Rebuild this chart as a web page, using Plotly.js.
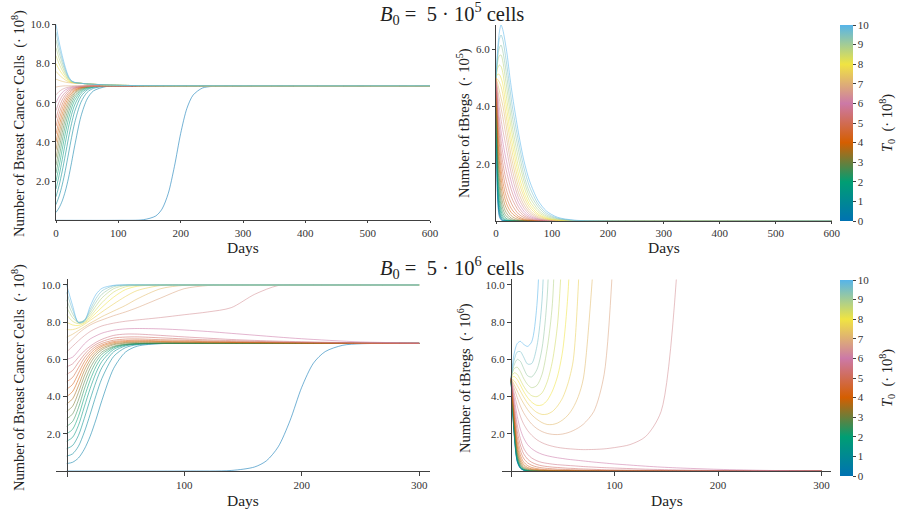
<!DOCTYPE html>
<html>
<head>
<meta charset="utf-8">
<script src="https://cdn.plot.ly/plotly-3.0.1.min.js"></script>
<style>html,body{margin:0;padding:0;background:#fff;}#chart{width:901px;height:509px;}</style>
</head>
<body>
<div id="chart"></div>
<script>
// Initial tumour sizes T0 (·10^8), one curve each
const T0_VALUES = [0, 0.4, 0.8, 1.2, 1.6, 2.0, 2.4, 2.8, 3.2, 3.6, 4.0, 4.4, 4.8, 5.2, 5.6, 6.0, 6.4, 6.8, 7.2, 7.6, 8.0, 8.4, 8.8, 9.2, 9.6, 10.0];

// ---- Top-left: breast cancer cells, B0 = 5·10^5 ----
const daysTopLeft = [0, 5, 10, 15, 20, 25, 30, 40, 50, 60, 80, 100, 140, 600];
const daysTopLeftZero = [0, 100, 140, 160, 170, 180, 190, 200, 210, 220, 235, 250, 280, 600];
const cancerTopLeftZero = [0, 0, 0.03, 0.22, 0.57, 1.36, 2.75, 4.43, 5.71, 6.39, 6.75, 6.83, 6.86, 6.86];
const cancerTopLeft = [ // T0 = 0.4 ... 10
  [0.4, 0.64, 0.99, 1.49, 2.15, 2.95, 3.80, 5.30, 6.19, 6.60, 6.82, 6.85, 6.86, 6.86],
  [0.8, 1.23, 1.81, 2.55, 3.39, 4.23, 4.98, 6.02, 6.53, 6.73, 6.84, 6.86, 6.86, 6.86],
  [1.2, 1.78, 2.51, 3.34, 4.19, 4.94, 5.56, 6.31, 6.65, 6.78, 6.85, 6.86, 6.86, 6.86],
  [1.6, 2.29, 3.10, 3.96, 4.75, 5.40, 5.89, 6.47, 6.71, 6.80, 6.85, 6.86, 6.86, 6.86],
  [2.0, 2.77, 3.62, 4.45, 5.16, 5.72, 6.12, 6.57, 6.75, 6.82, 6.86, 6.86, 6.86, 6.86],
  [2.4, 3.23, 4.07, 4.85, 5.48, 5.95, 6.28, 6.63, 6.78, 6.83, 6.86, 6.86, 6.86, 6.86],
  [2.8, 3.65, 4.47, 5.18, 5.73, 6.13, 6.40, 6.68, 6.79, 6.84, 6.86, 6.86, 6.86, 6.86],
  [3.2, 4.05, 4.83, 5.47, 5.94, 6.27, 6.49, 6.72, 6.81, 6.84, 6.86, 6.86, 6.86, 6.86],
  [3.6, 4.43, 5.15, 5.71, 6.11, 6.38, 6.56, 6.75, 6.82, 6.85, 6.86, 6.86, 6.86, 6.86],
  [4.0, 4.79, 5.43, 5.92, 6.26, 6.48, 6.62, 6.77, 6.83, 6.85, 6.86, 6.86, 6.86, 6.86],
  [4.4, 5.12, 5.69, 6.10, 6.38, 6.56, 6.67, 6.79, 6.84, 6.85, 6.86, 6.86, 6.86, 6.86],
  [4.8, 5.44, 5.92, 6.26, 6.48, 6.63, 6.72, 6.81, 6.84, 6.85, 6.86, 6.86, 6.86, 6.86],
  [5.2, 5.75, 6.14, 6.40, 6.58, 6.68, 6.75, 6.82, 6.85, 6.86, 6.86, 6.86, 6.86, 6.86],
  [5.6, 6.04, 6.34, 6.53, 6.66, 6.74, 6.78, 6.83, 6.85, 6.86, 6.86, 6.86, 6.86, 6.86],
  [6.0, 6.31, 6.52, 6.65, 6.73, 6.78, 6.81, 6.84, 6.85, 6.86, 6.86, 6.86, 6.86, 6.86],
  [6.4, 6.57, 6.68, 6.75, 6.79, 6.82, 6.84, 6.85, 6.86, 6.86, 6.86, 6.86, 6.86, 6.86],
  [6.8, 6.83, 6.85, 6.86, 6.86, 6.86, 6.86, 6.86, 6.86, 6.86, 6.86, 6.86, 6.86, 6.86],
  [7.2, 7.14, 7.09, 7.05, 7.02, 7.01, 7.00, 6.99, 6.96, 6.94, 6.91, 6.89, 6.87, 6.86],
  [7.6, 7.42, 7.28, 7.16, 7.07, 7.02, 7.01, 6.99, 6.96, 6.94, 6.91, 6.89, 6.87, 6.86],
  [8.0, 7.70, 7.47, 7.27, 7.12, 7.04, 7.01, 6.99, 6.96, 6.94, 6.91, 6.89, 6.87, 6.86],
  [8.4, 7.98, 7.65, 7.37, 7.16, 7.06, 7.02, 6.99, 6.96, 6.94, 6.91, 6.89, 6.87, 6.86],
  [8.8, 8.26, 7.84, 7.48, 7.21, 7.07, 7.02, 6.99, 6.96, 6.94, 6.91, 6.89, 6.87, 6.86],
  [9.2, 8.54, 8.03, 7.59, 7.26, 7.09, 7.03, 6.99, 6.96, 6.94, 6.91, 6.89, 6.87, 6.86],
  [9.6, 8.82, 8.21, 7.69, 7.30, 7.10, 7.03, 6.99, 6.96, 6.94, 6.91, 6.89, 6.87, 6.86],
  [10.0, 9.10, 8.40, 7.80, 7.35, 7.12, 7.04, 6.99, 6.96, 6.94, 6.91, 6.89, 6.87, 6.86]
];

// ---- Top-right: tBregs (·10^5), B0 = 5·10^5 ----
const daysTopRight = [0, 3, 6, 9, 12, 16, 20, 25, 30, 40, 50, 60, 75, 90, 110, 140, 200, 600];
const bregsTopRight = [ // T0 = 0 ... 10
  [5.0, 0.7, 0.15, 0.04, 0.01, 0, 0, 0, 0, 0, 0, 0, 0, 0, 0, 0, 0, 0],
  [5.0, 0.85, 0.22, 0.06, 0.02, 0, 0, 0, 0, 0, 0, 0, 0, 0, 0, 0, 0, 0],
  [5.0, 1.0, 0.3, 0.1, 0.03, 0.01, 0, 0, 0, 0, 0, 0, 0, 0, 0, 0, 0, 0],
  [5.0, 1.2, 0.4, 0.15, 0.06, 0.02, 0, 0, 0, 0, 0, 0, 0, 0, 0, 0, 0, 0],
  [5.0, 1.4, 0.55, 0.24, 0.11, 0.04, 0.01, 0, 0, 0, 0, 0, 0, 0, 0, 0, 0, 0],
  [5.0, 1.65, 0.72, 0.36, 0.18, 0.08, 0.03, 0.01, 0, 0, 0, 0, 0, 0, 0, 0, 0, 0],
  [5.0, 1.9, 0.95, 0.52, 0.29, 0.14, 0.07, 0.03, 0.01, 0, 0, 0, 0, 0, 0, 0, 0, 0],
  [5.0, 2.2, 1.2, 0.72, 0.44, 0.24, 0.14, 0.07, 0.03, 0, 0, 0, 0, 0, 0, 0, 0, 0],
  [5.0, 2.45, 1.5, 0.95, 0.63, 0.38, 0.24, 0.13, 0.07, 0.02, 0, 0, 0, 0, 0, 0, 0, 0],
  [5.0, 2.75, 1.8, 1.22, 0.86, 0.56, 0.38, 0.23, 0.14, 0.05, 0.02, 0, 0, 0, 0, 0, 0, 0],
  [5.0, 3.05, 2.1, 1.52, 1.12, 0.78, 0.55, 0.36, 0.24, 0.1, 0.04, 0.01, 0, 0, 0, 0, 0, 0],
  [5.0, 3.3, 2.4, 1.82, 1.4, 1.02, 0.76, 0.52, 0.36, 0.16, 0.07, 0.03, 0.01, 0, 0, 0, 0, 0],
  [5.0, 3.55, 2.7, 2.15, 1.72, 1.3, 1.0, 0.73, 0.52, 0.25, 0.12, 0.05, 0.01, 0, 0, 0, 0, 0],
  [5.0, 3.8, 3.0, 2.45, 2.05, 1.62, 1.3, 0.97, 0.72, 0.37, 0.18, 0.08, 0.02, 0, 0, 0, 0, 0],
  [5.0, 4.0, 3.3, 2.8, 2.4, 1.98, 1.63, 1.25, 0.94, 0.5, 0.25, 0.12, 0.04, 0.01, 0, 0, 0, 0],
  [5.0, 4.2, 3.6, 3.15, 2.78, 2.35, 1.98, 1.55, 1.18, 0.65, 0.34, 0.17, 0.06, 0.02, 0, 0, 0, 0],
  [5.0, 4.4, 3.95, 3.55, 3.2, 2.8, 2.38, 1.88, 1.45, 0.82, 0.45, 0.23, 0.08, 0.03, 0.01, 0, 0, 0],
  [5.0, 4.6, 4.25, 3.95, 3.65, 3.2, 2.75, 2.2, 1.72, 1.0, 0.56, 0.3, 0.11, 0.04, 0.01, 0, 0, 0],
  [5.0, 4.8, 4.55, 4.3, 4.05, 3.6, 3.1, 2.5, 2.0, 1.2, 0.7, 0.38, 0.15, 0.06, 0.015, 0, 0, 0],
  [5.0, 4.95, 4.85, 4.7, 4.45, 3.95, 3.45, 2.85, 2.3, 1.42, 0.85, 0.48, 0.2, 0.08, 0.02, 0, 0, 0],
  [5.0, 5.13, 5.12, 5.0, 4.8, 4.3, 3.8, 3.15, 2.6, 1.65, 1.0, 0.58, 0.25, 0.1, 0.03, 0.01, 0, 0],
  [5.0, 5.35, 5.45, 5.4, 5.2, 4.7, 4.15, 3.5, 2.9, 1.9, 1.2, 0.7, 0.32, 0.13, 0.04, 0.01, 0, 0],
  [5.0, 5.55, 5.78, 5.8, 5.6, 5.1, 4.55, 3.85, 3.2, 2.2, 1.4, 0.85, 0.4, 0.17, 0.06, 0.01, 0, 0],
  [5.0, 5.7, 6.05, 6.15, 5.95, 5.5, 4.95, 4.2, 3.55, 2.5, 1.6, 1.0, 0.5, 0.22, 0.08, 0.015, 0, 0],
  [5.0, 5.85, 6.35, 6.5, 6.35, 5.9, 5.35, 4.6, 3.9, 2.8, 1.85, 1.2, 0.6, 0.28, 0.1, 0.02, 0, 0],
  [5.0, 6.0, 6.6, 6.85, 6.7, 6.3, 5.8, 5.0, 4.3, 3.1, 2.1, 1.4, 0.72, 0.35, 0.13, 0.03, 0, 0]
];

// ---- Bottom-left: breast cancer cells, B0 = 5·10^6 ----
const daysBottomLeft = [0, 5, 10, 15, 20, 25, 30, 40, 50, 60, 80, 100, 120, 140, 160, 180, 200, 250, 300];
const daysBottomLeftZero = [0, 100, 140, 160, 170, 180, 190, 200, 210, 220, 235, 250, 270, 300];
const cancerBottomLeftZero = [0, 0, 0.03, 0.22, 0.55, 1.3, 2.7, 4.5, 5.8, 6.42, 6.76, 6.84, 6.86, 6.86];
const cancerBottomLeft = [ // T0 = 0.4 ... 10
  [0.4, 0.47, 0.70, 1.17, 1.87, 2.78, 3.80, 5.52, 6.39, 6.71, 6.85, 6.86, 6.86, 6.86, 6.86, 6.86, 6.86, 6.86, 6.86],
  [0.8, 0.92, 1.33, 2.09, 3.05, 4.07, 4.98, 6.16, 6.63, 6.79, 6.85, 6.86, 6.86, 6.86, 6.86, 6.86, 6.86, 6.86, 6.86],
  [1.2, 1.37, 1.91, 2.83, 3.85, 4.80, 5.56, 6.41, 6.72, 6.82, 6.86, 6.86, 6.86, 6.86, 6.86, 6.86, 6.86, 6.86, 6.86],
  [1.6, 1.81, 2.45, 3.45, 4.44, 5.28, 5.89, 6.54, 6.76, 6.83, 6.86, 6.86, 6.86, 6.86, 6.86, 6.86, 6.86, 6.86, 6.86],
  [2.0, 2.24, 2.94, 3.96, 4.89, 5.62, 6.12, 6.62, 6.79, 6.84, 6.86, 6.86, 6.86, 6.86, 6.86, 6.86, 6.86, 6.86, 6.86],
  [2.4, 2.66, 3.40, 4.40, 5.25, 5.87, 6.28, 6.67, 6.80, 6.85, 6.86, 6.86, 6.86, 6.86, 6.86, 6.86, 6.86, 6.86, 6.86],
  [2.8, 3.07, 3.82, 4.77, 5.53, 6.06, 6.40, 6.71, 6.82, 6.85, 6.86, 6.86, 6.86, 6.86, 6.86, 6.86, 6.86, 6.86, 6.86],
  [3.2, 3.48, 4.22, 5.10, 5.78, 6.24, 6.52, 6.79, 6.87, 6.91, 6.90, 6.89, 6.88, 6.88, 6.87, 6.87, 6.87, 6.86, 6.86],
  [3.6, 3.88, 4.58, 5.39, 5.98, 6.37, 6.61, 6.84, 6.91, 6.94, 6.93, 6.92, 6.90, 6.89, 6.89, 6.88, 6.87, 6.86, 6.86],
  [4.0, 4.27, 4.93, 5.64, 6.16, 6.49, 6.70, 6.90, 6.96, 6.98, 6.96, 6.94, 6.93, 6.91, 6.90, 6.89, 6.88, 6.87, 6.86],
  [4.4, 4.65, 5.25, 5.87, 6.31, 6.60, 6.77, 6.96, 7.01, 7.03, 7.00, 6.98, 6.95, 6.93, 6.91, 6.90, 6.89, 6.87, 6.86],
  [4.8, 5.03, 5.55, 6.08, 6.45, 6.70, 6.86, 7.03, 7.09, 7.10, 7.06, 7.03, 6.99, 6.96, 6.94, 6.92, 6.90, 6.87, 6.86],
  [5.2, 5.40, 5.84, 6.26, 6.59, 6.81, 6.96, 7.15, 7.20, 7.21, 7.16, 7.10, 7.05, 7.01, 6.97, 6.94, 6.92, 6.88, 6.87],
  [5.6, 5.76, 6.11, 6.45, 6.71, 6.92, 7.08, 7.29, 7.36, 7.36, 7.29, 7.21, 7.14, 7.07, 7.02, 6.98, 6.95, 6.89, 6.87],
  [6.0, 6.12, 6.46, 6.83, 7.10, 7.27, 7.41, 7.57, 7.64, 7.66, 7.64, 7.58, 7.50, 7.40, 7.30, 7.20, 7.11, 6.94, 6.88],
  [6.4, 6.70, 7.00, 7.27, 7.50, 7.67, 7.80, 7.95, 8.05, 8.12, 8.25, 8.40, 8.55, 8.78, 9.50, 9.97, 10.0, 10.0, 10.0],
  [6.8, 7.10, 7.40, 7.65, 7.85, 8.00, 8.12, 8.35, 8.55, 8.78, 9.30, 9.80, 9.97, 10.0, 10.0, 10.0, 10.0, 10.0, 10.0],
  [7.2, 7.35, 7.55, 7.75, 7.95, 8.12, 8.30, 8.60, 8.90, 9.25, 9.80, 9.98, 10.0, 10.0, 10.0, 10.0, 10.0, 10.0, 10.0],
  [7.6, 7.60, 7.70, 7.88, 8.10, 8.32, 8.55, 8.98, 9.38, 9.70, 9.97, 10.0, 10.0, 10.0, 10.0, 10.0, 10.0, 10.0, 10.0],
  [8.0, 7.85, 7.82, 7.95, 8.20, 8.50, 8.80, 9.35, 9.75, 9.93, 10.0, 10.0, 10.0, 10.0, 10.0, 10.0, 10.0, 10.0, 10.0],
  [8.4, 8.05, 7.92, 8.00, 8.30, 8.68, 9.05, 9.62, 9.90, 9.98, 10.0, 10.0, 10.0, 10.0, 10.0, 10.0, 10.0, 10.0, 10.0],
  [8.8, 8.25, 7.98, 8.06, 8.42, 8.88, 9.30, 9.80, 9.97, 10.0, 10.0, 10.0, 10.0, 10.0, 10.0, 10.0, 10.0, 10.0, 10.0],
  [9.2, 8.45, 8.00, 8.10, 8.55, 9.08, 9.50, 9.90, 10.0, 10.0, 10.0, 10.0, 10.0, 10.0, 10.0, 10.0, 10.0, 10.0, 10.0],
  [9.6, 8.68, 8.00, 8.10, 8.68, 9.28, 9.68, 9.96, 10.0, 10.0, 10.0, 10.0, 10.0, 10.0, 10.0, 10.0, 10.0, 10.0, 10.0],
  [10.0, 8.90, 7.97, 8.05, 8.85, 9.50, 9.82, 9.98, 10.0, 10.0, 10.0, 10.0, 10.0, 10.0, 10.0, 10.0, 10.0, 10.0, 10.0]
];

// ---- Bottom-right: tBregs (·10^6), B0 = 5·10^6 (curves leaving the top end early) ----
const daysBottomRight = [0, 3, 6, 9, 12, 16, 20, 25, 30, 35, 40, 45, 50, 55, 60, 65, 70, 80, 90, 100, 115, 130, 145, 160, 200, 250, 300];
const bregsBottomRight = [ // T0 = 0 ... 10
  [5.0, 2.0, 0.5, 0.15, 0.05, 0.01, 0, 0, 0, 0, 0, 0, 0, 0, 0, 0, 0, 0, 0, 0, 0, 0, 0, 0, 0, 0, 0],
  [5.0, 2.05, 0.53, 0.16, 0.05, 0.01, 0, 0, 0, 0, 0, 0, 0, 0, 0, 0, 0, 0, 0, 0, 0, 0, 0, 0, 0, 0, 0],
  [5.0, 2.1, 0.56, 0.17, 0.06, 0.01, 0, 0, 0, 0, 0, 0, 0, 0, 0, 0, 0, 0, 0, 0, 0, 0, 0, 0, 0, 0, 0],
  [5.0, 2.15, 0.6, 0.19, 0.06, 0.02, 0, 0, 0, 0, 0, 0, 0, 0, 0, 0, 0, 0, 0, 0, 0, 0, 0, 0, 0, 0, 0],
  [5.0, 2.2, 0.65, 0.21, 0.07, 0.02, 0, 0, 0, 0, 0, 0, 0, 0, 0, 0, 0, 0, 0, 0, 0, 0, 0, 0, 0, 0, 0],
  [5.0, 2.3, 0.72, 0.24, 0.09, 0.03, 0.01, 0, 0, 0, 0, 0, 0, 0, 0, 0, 0, 0, 0, 0, 0, 0, 0, 0, 0, 0, 0],
  [5.0, 2.4, 0.8, 0.29, 0.11, 0.04, 0.02, 0.01, 0, 0, 0, 0, 0, 0, 0, 0, 0, 0, 0, 0, 0, 0, 0, 0, 0, 0, 0],
  [5.0, 2.5, 0.9, 0.35, 0.14, 0.06, 0.03, 0.01, 0, 0, 0, 0, 0, 0, 0, 0, 0, 0, 0, 0, 0, 0, 0, 0, 0, 0, 0],
  [5.0, 2.6, 1.02, 0.43, 0.19, 0.09, 0.05, 0.03, 0.02, 0.01, 0, 0, 0, 0, 0, 0, 0, 0, 0, 0, 0, 0, 0, 0, 0, 0, 0],
  [5.0, 2.75, 1.17, 0.54, 0.26, 0.13, 0.08, 0.05, 0.03, 0.02, 0.01, 0, 0, 0, 0, 0, 0, 0, 0, 0, 0, 0, 0, 0, 0, 0, 0],
  [5.0, 2.9, 1.35, 0.68, 0.36, 0.19, 0.12, 0.08, 0.05, 0.04, 0.03, 0.02, 0.02, 0.01, 0.01, 0, 0, 0, 0, 0, 0, 0, 0, 0, 0, 0, 0],
  [5.0, 3.05, 1.58, 0.86, 0.5, 0.29, 0.19, 0.13, 0.09, 0.07, 0.06, 0.05, 0.04, 0.03, 0.03, 0.02, 0.02, 0.01, 0.01, 0, 0, 0, 0, 0, 0, 0, 0],
  [5.0, 3.25, 1.85, 1.1, 0.7, 0.44, 0.31, 0.22, 0.17, 0.14, 0.12, 0.1, 0.09, 0.08, 0.07, 0.06, 0.05, 0.04, 0.03, 0.02, 0.02, 0.01, 0.01, 0, 0, 0, 0],
  [5.0, 3.45, 2.15, 1.4, 0.95, 0.64, 0.47, 0.35, 0.28, 0.24, 0.21, 0.19, 0.17, 0.15, 0.14, 0.12, 0.11, 0.09, 0.07, 0.06, 0.05, 0.04, 0.03, 0.02, 0.01, 0, 0],
  [5.0, 3.7, 2.5, 1.75, 1.25, 0.9, 0.7, 0.55, 0.46, 0.41, 0.37, 0.34, 0.32, 0.3, 0.28, 0.26, 0.24, 0.21, 0.18, 0.16, 0.13, 0.1, 0.08, 0.06, 0.03, 0.01, 0],
  [5.0, 3.95, 2.95, 2.25, 1.8, 1.42, 1.2, 1.02, 0.9, 0.82, 0.76, 0.71, 0.67, 0.63, 0.6, 0.57, 0.54, 0.48, 0.43, 0.38, 0.32, 0.26, 0.21, 0.17, 0.09, 0.03, 0.01],
  [5.0, 4.2, 3.5, 2.95, 2.55, 2.18, 1.92, 1.68, 1.52, 1.41, 1.33, 1.27, 1.23, 1.2, 1.18, 1.16, 1.15, 1.16, 1.19, 1.26, 1.42, 1.85, 3.2, 10.5],
  [5.0, 4.45, 3.95, 3.5, 3.15, 2.8, 2.52, 2.28, 2.12, 2.02, 1.97, 1.96, 1.99, 2.06, 2.17, 2.32, 2.52, 3.2, 5.2, 13],
  [5.0, 4.65, 4.3, 3.95, 3.65, 3.3, 3.02, 2.78, 2.6, 2.5, 2.5, 2.58, 2.75, 3.0, 3.4, 4.0, 5.0, 11.5],
  [5.0, 4.85, 4.6, 4.3, 4.0, 3.65, 3.38, 3.15, 3.04, 3.06, 3.2, 3.5, 3.95, 4.7, 5.9, 9.9, 18],
  [5.0, 5.08, 4.92, 4.62, 4.3, 3.95, 3.7, 3.53, 3.55, 3.8, 4.3, 5.1, 6.5, 9.5, 16],
  [5.0, 5.28, 5.2, 4.9, 4.58, 4.25, 4.05, 4.0, 4.2, 4.8, 5.9, 7.9, 12.5],
  [5.0, 5.5, 5.58, 5.35, 5.0, 4.65, 4.48, 4.6, 5.2, 6.6, 9.0, 17],
  [5.0, 5.7, 6.0, 5.9, 5.55, 5.12, 5.06, 5.45, 6.6, 9.4, 18],
  [5.0, 5.95, 6.4, 6.42, 6.15, 5.75, 5.78, 6.7, 9.2, 18],
  [5.0, 6.3, 6.85, 6.97, 6.82, 6.7, 6.95, 8.9, 16]
];

// Axis tick values / labels
const ticksDays600 = [0, 100, 200, 300, 400, 500, 600];
const ticksDays300 = [100, 200, 300];
const ticksCancer = [2, 4, 6, 8, 10];
const ticksCancerText = ['2.0', '4.0', '6.0', '8.0', '10.0'];
const ticksBregsTop = [2, 4, 6];
const ticksBregsTopText = ['2.0', '4.0', '6.0'];
const ticksColorbar = [0, 1, 2, 3, 4, 5, 6, 7, 8, 9, 10];

// ---------- styling ----------
const FONT = "'Liberation Serif', 'DejaVu Serif', serif";
const AXIS_COL = '#404040';
const SCALE = [[0, '#0072B2'], [0.2, '#009E73'], [0.4, '#D55E00'], [0.6, '#CC79A7'], [0.8, '#F0E442'], [1, '#56B4E9']];
const LINE_ALPHA = 0.55;

function hexRgb(h) { return [parseInt(h.slice(1, 3), 16), parseInt(h.slice(3, 5), 16), parseInt(h.slice(5, 7), 16)]; }
function colorFor(v) {
  const f = Math.max(0, Math.min(1, v / 10));
  for (let i = 0; i < SCALE.length - 1; i++) {
    const a = SCALE[i], b = SCALE[i + 1];
    if (f >= a[0] && f <= b[0]) {
      const u = (f - a[0]) / (b[0] - a[0]);
      const ca = hexRgb(a[1]), cb = hexRgb(b[1]);
      const c = ca.map((x, k) => Math.round(x + (cb[k] - x) * u));
      return 'rgba(' + c[0] + ',' + c[1] + ',' + c[2] + ',' + LINE_ALPHA + ')';
    }
  }
  return 'rgba(0,0,0,' + LINE_ALPHA + ')';
}

const traces = [];
function addLine(x, y, t0, xa, ya) {
  traces.push({
    type: 'scatter', mode: 'lines', x: x, y: y, xaxis: xa, yaxis: ya,
    line: { color: colorFor(t0), width: 1, shape: 'spline', smoothing: 0.8 },
    hoverinfo: 'skip', showlegend: false
  });
}

// Top-left
addLine(daysTopLeftZero, cancerTopLeftZero, T0_VALUES[0], 'x', 'y');
cancerTopLeft.forEach((row, i) => addLine(daysTopLeft, row, T0_VALUES[i + 1], 'x', 'y'));
// Top-right
bregsTopRight.forEach((row, i) => addLine(daysTopRight, row, T0_VALUES[i], 'x2', 'y2'));
// Bottom-left
addLine(daysBottomLeftZero, cancerBottomLeftZero, T0_VALUES[0], 'x3', 'y3');
cancerBottomLeft.forEach((row, i) => addLine(daysBottomLeft, row, T0_VALUES[i + 1], 'x3', 'y3'));
// Bottom-right
bregsBottomRight.forEach((row, i) => addLine(daysBottomRight.slice(0, row.length), row, T0_VALUES[i], 'x4', 'y4'));

// Colour bars (dummy invisible markers)
function colorbarTrace(xa, ya, topPx) {
  return {
    type: 'scatter', mode: 'markers', x: [0, 0], y: [0, 0], xaxis: xa, yaxis: ya,
    hoverinfo: 'skip', showlegend: false,
    marker: {
      size: 0.1, opacity: 0, color: [0, 10], cmin: 0, cmax: 10, colorscale: SCALE, showscale: true,
      colorbar: {
        x: 840 / 901, xanchor: 'left', xpad: 0, y: 1 - topPx / 509, yanchor: 'top', ypad: 0,
        len: 196, lenmode: 'pixels', thickness: 13, thicknessmode: 'pixels', outlinewidth: 0,
        tickvals: ticksColorbar, ticks: 'outside', ticklen: 3, tickcolor: AXIS_COL,
        tickfont: { family: FONT, size: 11, color: '#333' }
      }
    }
  };
}
traces.push(colorbarTrace('x2', 'y2', 25));
traces.push(colorbarTrace('x4', 'y4', 280));

const tickFont = { family: FONT, size: 11, color: '#333' };
function axisBase(extra) {
  return Object.assign({
    showgrid: false, zeroline: false, showline: true, linecolor: AXIS_COL, linewidth: 1,
    ticks: 'outside', ticklen: 3, tickcolor: AXIS_COL, tickfont: tickFont, fixedrange: true
  }, extra);
}

const px = v => v / 901, py = v => 1 - v / 509;

const layout = {
  width: 901, height: 509, margin: { l: 0, r: 0, t: 0, b: 0 },
  paper_bgcolor: '#fff', plot_bgcolor: 'rgba(0,0,0,0)', showlegend: false, hovermode: false,
  xaxis: axisBase({ domain: [px(56), px(430)], range: [0, 600], anchor: 'y', tickvals: ticksDays600, ticklen: 2 }),
  yaxis: axisBase({ domain: [py(220.3), py(24.3)], range: [0, 10], anchor: 'x', tickvals: ticksCancer, ticktext: ticksCancerText }),
  xaxis2: axisBase({ domain: [px(496), px(831.7)], range: [0, 600], anchor: 'y2', tickvals: ticksDays600, ticklen: 2 }),
  yaxis2: axisBase({ domain: [py(221), py(25)], range: [0, 6.85], anchor: 'x2', tickvals: ticksBregsTop, ticktext: ticksBregsTopText }),
  xaxis3: axisBase({ domain: [px(56.1), px(429.8)], range: [-9, 309], anchor: 'free', position: py(471), tickvals: ticksDays300, ticklen: 4 }),
  yaxis3: axisBase({ domain: [py(476.6), py(279.4)], range: [-0.3, 10.3], anchor: 'free', position: px(66.7), tickvals: ticksCancer, ticktext: ticksCancerText, ticklen: 4 }),
  xaxis4: axisBase({ domain: [px(501.7), px(830.8)], range: [-9, 309], anchor: 'free', position: py(471), tickvals: ticksDays300, ticklen: 4 }),
  yaxis4: axisBase({ domain: [py(476.6), py(279.4)], range: [-0.3, 10.3], anchor: 'free', position: px(511), tickvals: ticksCancer, ticktext: ticksCancerText, ticklen: 4 }),
  annotations: []
};

function ann(text, xPx, yPx, size, angle) {
  layout.annotations.push({
    text: text, x: px(xPx), y: py(yPx), xref: 'paper', yref: 'paper', showarrow: false,
    xanchor: 'center', yanchor: 'middle', textangle: angle || 0,
    font: { family: FONT, size: size, color: '#222' }
  });
}
const NB = '\u00A0';
ann('<i>B</i><sub>0</sub>' + NB + '=' + NB + NB + '5' + NB + '·' + NB + '10<sup>5</sup>' + NB + 'cells', 452, 13, 20.5);
ann('<i>B</i><sub>0</sub>' + NB + '=' + NB + NB + '5' + NB + '·' + NB + '10<sup>6</sup>' + NB + 'cells', 452, 267, 20.5);
ann('Days', 243, 247, 15.5);
ann('Days', 664, 247, 15.5);
ann('Days', 243, 500, 15.5);
ann('Days', 667, 500, 15.5);
ann('Number of Breast Cancer Cells' + NB + NB + '(·' + NB + '10<sup>8</sup>)', 18, 124, 14.5, -90);
ann('Number of tBregs' + NB + NB + '(·' + NB + '10<sup>5</sup>)', 464, 123, 14.5, -90);
ann('Number of Breast Cancer Cells' + NB + NB + '(·' + NB + '10<sup>8</sup>)', 18, 378, 14.5, -90);
ann('Number of tBregs' + NB + NB + '(·' + NB + '10<sup>6</sup>)', 464, 378, 14.5, -90);
ann('<i>T</i><sub>0</sub>' + NB + NB + '(·' + NB + '10<sup>8</sup>)', 887, 123, 14.5, -90);
ann('<i>T</i><sub>0</sub>' + NB + NB + '(·' + NB + '10<sup>8</sup>)', 887, 378, 14.5, -90);

Plotly.newPlot('chart', traces, layout, { staticPlot: true, displayModeBar: false });
</script>
</body>
</html>
